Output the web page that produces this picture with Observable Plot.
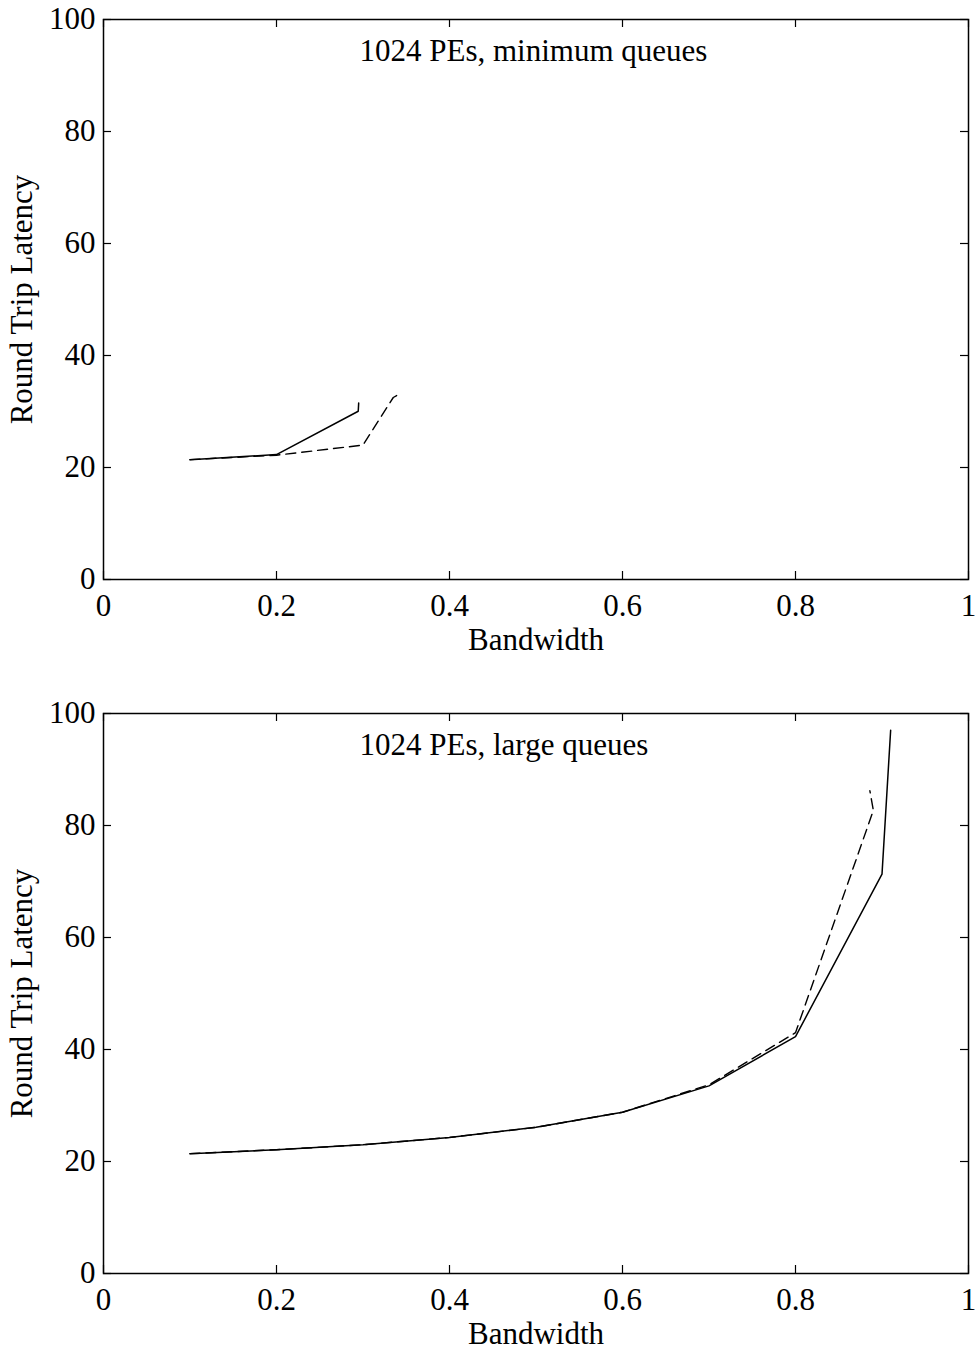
<!DOCTYPE html>
<html>
<head>
<meta charset="utf-8">
<script src="https://cdn.jsdelivr.net/npm/d3@7"></script>
<script src="https://cdn.jsdelivr.net/npm/@observablehq/plot@0.6"></script>
<style>
  html, body { margin: 0; padding: 0; background: #fff; }
  #chart svg { display: block; }
</style>
</head>
<body>
<div id="chart"></div>
<script>
// ---- data ----
const xTicks = [0, 0.2, 0.4, 0.6, 0.8, 1];
const yTicks = [0, 20, 40, 60, 80, 100];
const xLabel = "Bandwidth";
const yLabel = "Round Trip Latency";

const topTitle = "1024 PEs, minimum queues";
const topSolidBw  = [0.1, 0.2, 0.2945, 0.295];
const topSolidLat = [21.4, 22.3, 30.05, 31.5];
const topDashBw   = [0.1, 0.2, 0.300, 0.335, 0.3395];
const topDashLat  = [21.4, 22.2, 24.0, 32.5, 32.9];

const botTitle = "1024 PEs, large queues";
const botSolidBw  = [0.1, 0.2, 0.3, 0.4, 0.5, 0.6, 0.7, 0.8, 0.9, 0.91];
const botSolidLat = [21.4, 22.1, 23.0, 24.3, 26.1, 28.8, 33.5, 42.3, 71.3, 97.0];
const botDashBw   = [0.1, 0.2, 0.3, 0.4, 0.5, 0.6, 0.7, 0.8, 0.89, 0.886];
const botDashLat  = [21.4, 22.1, 23.0, 24.3, 26.1, 28.8, 33.7, 43.0, 82.7, 86.2];

const zip = (xs, ys) => xs.map((x, i) => ({bw: x, lat: ys[i]}));
const FS = 31;

function panel({title, solid, dashed, marginTop, marginBottom}) {
  const W = 977, H = 675;
  const mL = 103, mR = 9;
  const plotW = W - mL - mR;
  const plotH = H - marginTop - marginBottom;
  return Plot.plot({
    width: W, height: H,
    marginLeft: mL, marginRight: mR, marginTop, marginBottom,
    style: {fontFamily: "'Liberation Serif', 'Times New Roman', serif", fontSize: FS + "px", color: "#000", background: "#fff"},
    x: {domain: [0, 1]},
    y: {domain: [0, 100]},
    marks: [
      Plot.frame({stroke: "#000", strokeWidth: 1.5}),
      Plot.axisX(xTicks, {tickSize: 0, tickPadding: 14, fontSize: FS, label: null, tickFormat: d => String(d)}),
      Plot.axisY(yTicks, {tickSize: 0, tickPadding: 8, fontSize: FS, label: null}),
      // inward ticks on all four sides
      Plot.tickX(xTicks, {x: d => d, insetTop: plotH - 8, stroke: "#000", strokeWidth: 1.2}),
      Plot.tickX(xTicks, {x: d => d, insetBottom: plotH - 8, stroke: "#000", strokeWidth: 1.2}),
      Plot.tickY(yTicks, {y: d => d, insetRight: plotW - 8, stroke: "#000", strokeWidth: 1.2}),
      Plot.tickY(yTicks, {y: d => d, insetLeft: plotW - 8, stroke: "#000", strokeWidth: 1.2}),
      Plot.line(solid, {x: "bw", y: "lat", stroke: "#000", strokeWidth: 1.5}),
      Plot.line(dashed, {x: "bw", y: "lat", stroke: "#000", strokeWidth: 1.4, strokeDasharray: "10,6"}),
      Plot.text([title], {text: d => d, frameAnchor: "top-left", dx: 256, dy: 32, textAnchor: "start", lineAnchor: "middle", fontSize: FS, fill: "#000"}),
      Plot.text([xLabel], {text: d => d, frameAnchor: "bottom", dy: 61, textAnchor: "middle", lineAnchor: "middle", fontSize: FS, fill: "#000"}),
      Plot.text([yLabel], {text: d => d, frameAnchor: "left", dx: -81, rotate: -90, textAnchor: "middle", lineAnchor: "middle", fontSize: FS, fill: "#000"})
    ]
  });
}

const chart = document.getElementById("chart");
chart.append(panel({title: topTitle, solid: zip(topSolidBw, topSolidLat), dashed: zip(topDashBw, topDashLat), marginTop: 19, marginBottom: 96}));
chart.append(panel({title: botTitle, solid: zip(botSolidBw, botSolidLat), dashed: zip(botDashBw, botDashLat), marginTop: 38, marginBottom: 77}));
</script>
</body>
</html>
